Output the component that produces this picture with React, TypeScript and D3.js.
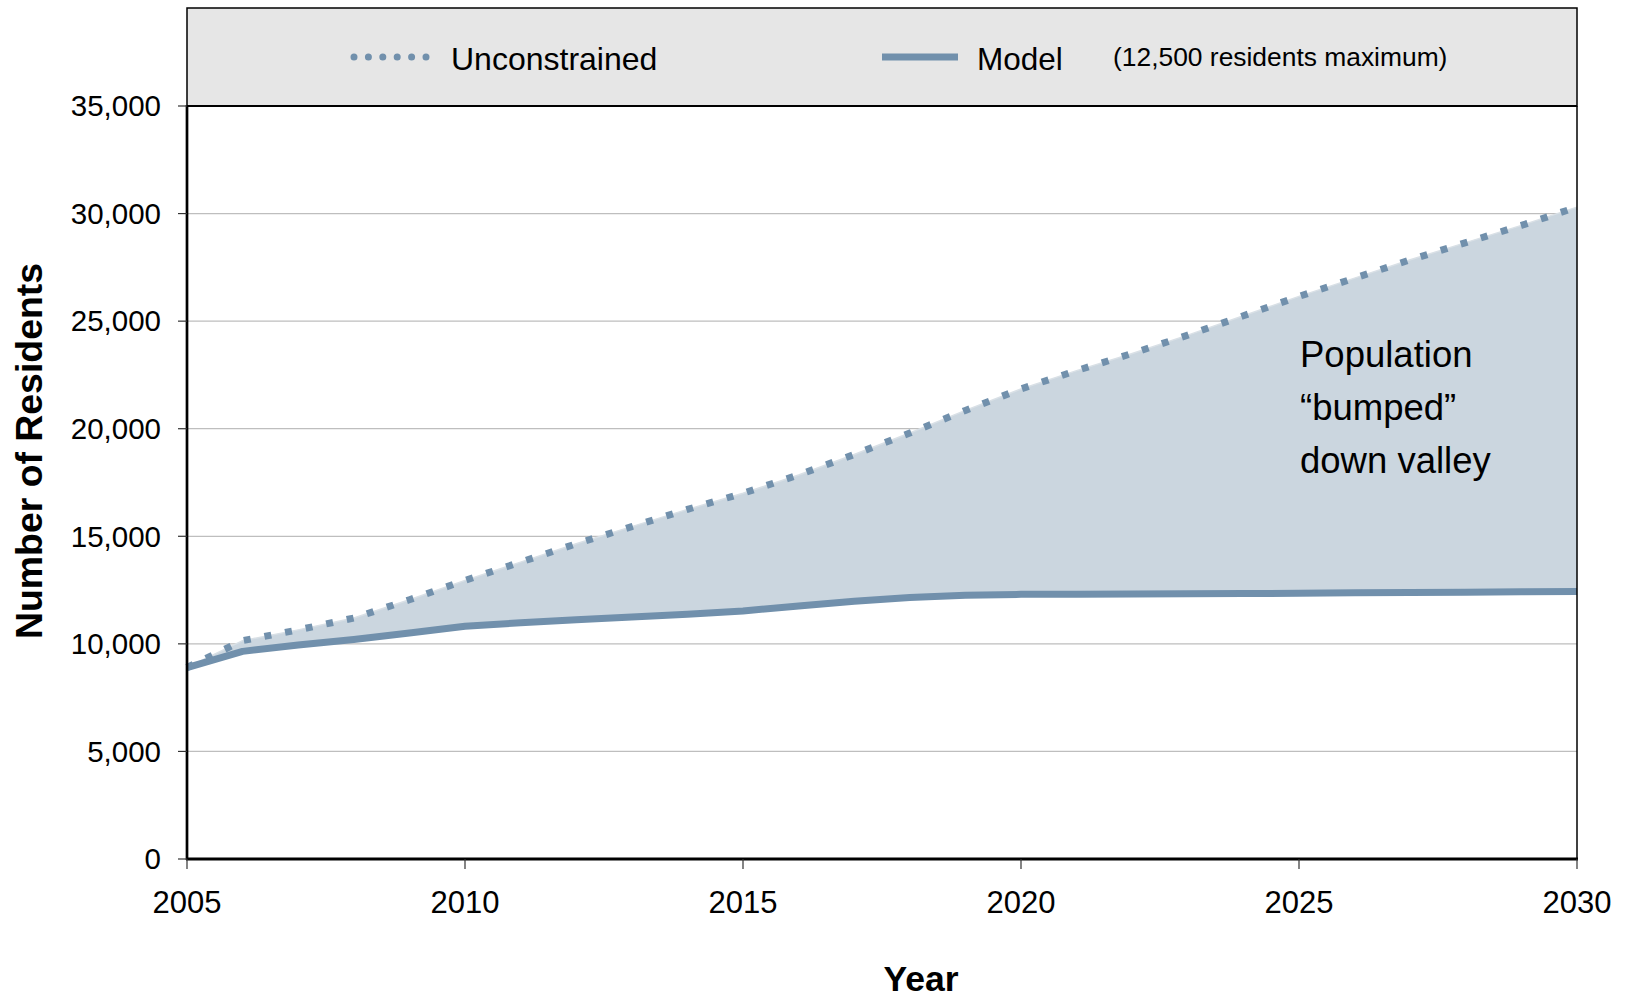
import React from "react";
import * as d3 from "d3";

const years = [2005, 2006, 2007, 2008, 2009, 2010, 2011, 2012, 2013, 2014, 2015, 2016, 2017, 2018, 2019, 2020, 2021, 2022, 2023, 2024, 2025, 2026, 2027, 2028, 2029, 2030];
const unconstrained = [8900, 10150, 10650, 11200, 12050, 12950, 13800, 14650, 15450, 16250, 17000, 17850, 18800, 19800, 20850, 21850, 22700, 23500, 24350, 25250, 26150, 27000, 27850, 28650, 29450, 30300];
const model = [8900, 9650, 9950, 10200, 10500, 10820, 10980, 11120, 11250, 11380, 11530, 11760, 11980, 12150, 12260, 12300, 12310, 12320, 12330, 12340, 12350, 12370, 12390, 12400, 12420, 12430];
const yTicks = [0, 5000, 10000, 15000, 20000, 25000, 30000, 35000];
const xTicks = [2005, 2010, 2015, 2020, 2025, 2030];
const legendLabels = ["Unconstrained", "Model", "(12,500 residents maximum)"];
const annotation = ["Population", "\u201Cbumped\u201D", "down valley"];

const FONT = "'Liberation Sans', Arial, Helvetica, sans-serif";
const LINE = "#7190AC";
const FILL = "#CBD6DF";

export default function App() {
  const W = 1629, H = 1000;
  const left = 187, right = 1577, top = 106, bottom = 859;
  const x = d3.scaleLinear().domain([2005, 2030]).range([left, right]);
  const y = d3.scaleLinear().domain([0, 35000]).range([bottom, top]);
  const fmt = d3.format(",");

  const rows = years.map((yr, i) => ({ yr, u: unconstrained[i], m: model[i] }));
  const area = d3.area<any>().x(d => x(d.yr)).y0(d => y(d.m)).y1(d => y(d.u))(rows) as string;
  const uLine = d3.line<any>().x(d => x(d.yr)).y(d => y(d.u))(rows) as string;
  const mLine = d3.line<any>().x(d => x(d.yr)).y(d => y(d.m))(rows) as string;

  return (
    <svg width={W} height={H} style={{ position: "absolute", left: 0, top: 0, background: "#fff" }} fontFamily={FONT}>
      {/* legend box */}
      <rect x={left} y={8} width={right - left} height={top - 8} fill="#E6E6E6" stroke="#000" strokeWidth={1.5} />
      <line x1={354} x2={426} y1={57} y2={57} stroke={LINE} strokeWidth={7} strokeLinecap="round" strokeDasharray="0 14.4" />
      <text x={451} y={70} fontSize={32} fill="#000">{legendLabels[0]}</text>
      <line x1={882} x2={958} y1={57} y2={57} stroke={LINE} strokeWidth={7} />
      <text x={977} y={70} fontSize={31.5} fill="#000">{legendLabels[1]}</text>
      <text x={1113} y={66} fontSize={26.4} fill="#000">{legendLabels[2]}</text>

      {/* gridlines */}
      {yTicks.filter(t => t > 0 && t < 35000).map(t => (
        <line key={t} x1={left} x2={right} y1={y(t)} y2={y(t)} stroke="#BEBEBE" strokeWidth={1.2} />
      ))}

      {/* area and lines */}
      <path d={area} fill={FILL} />
      <path d={uLine} fill="none" stroke="#D9E0E6" strokeWidth={1.5} />
      <path d={uLine} fill="none" stroke={LINE} strokeWidth={7} strokeDasharray="7 14" />
      <path d={mLine} fill="none" stroke={LINE} strokeWidth={7} strokeLinejoin="round" />

      {/* annotation */}
      {annotation.map((s, i) => (
        <text key={s} x={1300} y={367 + i * 53} fontSize={36.5} fill="#000">{s}</text>
      ))}

      {/* frame */}
      <line x1={right} x2={right} y1={top} y2={bottom} stroke="#000" strokeWidth={1.5} />
      <line x1={left} x2={right} y1={top} y2={top} stroke="#000" strokeWidth={2} />
      <line x1={left} x2={left} y1={top - 1} y2={bottom + 1} stroke="#000" strokeWidth={2.7} />
      <line x1={left - 1} x2={right + 1} y1={bottom} y2={bottom} stroke="#000" strokeWidth={3} />

      {/* y axis */}
      {yTicks.map(t => (
        <g key={t}>
          <line x1={left - 9} x2={left} y1={y(t)} y2={y(t)} stroke="#333" strokeWidth={1.2} />
          <text x={161} y={y(t)} dy="0.35em" textAnchor="end" fontSize={29.5} fill="#000">{fmt(t)}</text>
        </g>
      ))}
      {/* x axis */}
      {xTicks.map(t => (
        <g key={t}>
          <line x1={x(t)} x2={x(t)} y1={bottom} y2={bottom + 10} stroke="#333" strokeWidth={1.2} />
          <text x={x(t)} y={913} textAnchor="middle" fontSize={31} fill="#000">{t}</text>
        </g>
      ))}

      <text x={921} y={991} textAnchor="middle" fontSize={35.5} fontWeight="bold" fill="#000">Year</text>
      <text transform="translate(42,451) rotate(-90)" textAnchor="middle" fontSize={37.4} fontWeight="bold" fill="#000">Number of Residents</text>
    </svg>
  );
}
